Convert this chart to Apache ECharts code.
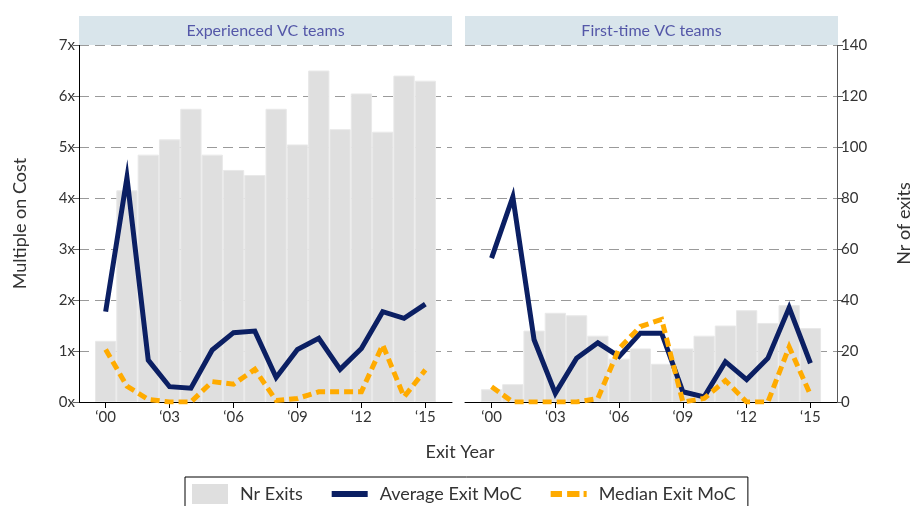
<!DOCTYPE html>
<html>
<head>
<meta charset="utf-8">
<script src="https://cdn.jsdelivr.net/npm/echarts@6/dist/echarts.min.js"></script>
<style>
  html, body { margin: 0; padding: 0; background: #fff; }
  #chart { width: 914px; height: 506px; }
</style>
</head>
<body>
<div id="chart"></div>
<script>
  var years = [2000, 2001, 2002, 2003, 2004, 2005, 2006, 2007, 2008, 2009, 2010, 2011, 2012, 2013, 2014, 2015];
  var labelYears = [2000, 2003, 2006, 2009, 2012, 2015];
  var panelTitles = ['Experienced VC teams', 'First-time VC teams'];

  // experienced VC teams
  var expExits = [24, 83, 97, 103, 115, 97, 91, 89, 115, 101, 130, 107, 121, 106, 128, 126];
  var expAvg = [1.77, 4.4, 0.82, 0.3, 0.27, 1.02, 1.36, 1.39, 0.48, 1.03, 1.25, 0.64, 1.05, 1.77, 1.64, 1.92];
  var expMed = [1.03, 0.31, 0.05, 0, 0, 0.4, 0.35, 0.64, 0.03, 0.07, 0.2, 0.2, 0.2, 1.12, 0.1, 0.63];

  // first-time VC teams
  var ftExits = [5, 7, 28, 35, 34, 26, 17, 21, 15, 21, 26, 30, 36, 31, 38, 29];
  var ftAvg = [2.82, 4.02, 1.22, 0.17, 0.86, 1.16, 0.89, 1.35, 1.35, 0.2, 0.1, 0.79, 0.44, 0.86, 1.85, 0.76];
  var ftMed = [0.3, 0, 0, 0, 0, 0.07, 1.05, 1.48, 1.62, 0, 0.07, 0.42, 0, 0, 1.08, 0.14];

  var font = 'Lato, "DejaVu Sans", sans-serif';
  var navy = '#0b1f63';
  var orange = '#ffab00';
  var barGray = '#dfdfdf';

  function pairs(vals) {
    return years.map(function (y, i) { return [y, vals[i]]; });
  }

  var chart = echarts.init(document.getElementById('chart'));

  function xAxisFor(gi) {
    return {
      type: 'value', gridIndex: gi, min: 1998.75, max: 2016.25,
      axisLine: { show: true, lineStyle: { color: '#000', width: 1 } },
      axisTick: { show: true, length: 6, customValues: labelYears, lineStyle: { color: '#000' } },
      axisLabel: {
        customValues: labelYears, color: '#333', fontFamily: font, fontSize: 15, margin: 8,
        formatter: function (v) { return '\u2018' + String(v).slice(2); }
      },
      splitLine: { show: false }
    };
  }

  var dashed = { show: true, lineStyle: { color: '#9a9a9a', width: 1.2, type: [10, 6] } };

  var option = {
    animation: false,
    textStyle: { fontFamily: font },
    grid: [
      { left: 79, top: 45, width: 373, height: 357 },
      { left: 465, top: 45, width: 373, height: 357 }
    ],
    xAxis: [xAxisFor(0), xAxisFor(1)],
    yAxis: [
      {
        type: 'value', gridIndex: 0, min: 0, max: 7, interval: 1, position: 'left',
        name: 'Multiple on Cost', nameLocation: 'middle', nameGap: 50,
        nameTextStyle: { fontSize: 18, color: '#333', fontFamily: font },
        axisLine: { show: true, lineStyle: { color: '#000' } },
        axisTick: { show: true, length: 6, lineStyle: { color: '#666' } },
        axisLabel: { formatter: '{value}x', color: '#333', fontSize: 15, fontFamily: font, margin: 4 },
        splitLine: dashed
      },
      { type: 'value', gridIndex: 0, min: 0, max: 140, show: false, splitLine: { show: false } },
      { type: 'value', gridIndex: 1, min: 0, max: 7, show: false, splitLine: { show: false } },
      {
        type: 'value', gridIndex: 1, min: 0, max: 140, interval: 20, position: 'right',
        name: 'Nr of exits', nameLocation: 'middle', nameGap: 58,
        nameTextStyle: { fontSize: 18, color: '#333', fontFamily: font },
        axisLine: { show: true, lineStyle: { color: '#555' } },
        axisTick: { show: true, length: 6, lineStyle: { color: '#555' } },
        axisLabel: { color: '#333', fontSize: 15, fontFamily: font, margin: 4 },
        splitLine: dashed
      }
    ],
    legend: {
      left: 185, top: 477,
      padding: [7, 12, 12, 7],
      borderColor: '#000', borderWidth: 1,
      itemWidth: 36, itemHeight: 20, itemGap: 29,
      selectedMode: false,
      textStyle: { fontSize: 18, color: '#333', fontFamily: font, padding: [0, 0, 0, 7] },
      data: [
        { name: 'Nr Exits', icon: 'rect', itemStyle: { color: barGray, borderWidth: 0 } },
        {
          name: 'Average Exit MoC', icon: 'path://M0,0h36v6h-36z',
          itemStyle: { color: navy, borderWidth: 0 }, lineStyle: { width: 0 }
        },
        {
          name: 'Median Exit MoC', icon: 'path://M0,0h11v6h-11z M16,0h12v6h-12z M32,0h3v6h-3z',
          itemStyle: { color: orange, borderWidth: 0 }, lineStyle: { width: 0 }
        }
      ]
    },
    graphic: [
      { type: 'rect', left: 79, top: 16, shape: { width: 373, height: 29 }, style: { fill: '#d9e5eb' }, z: 1 },
      { type: 'rect', left: 465, top: 16, shape: { width: 373, height: 29 }, style: { fill: '#d9e5eb' }, z: 1 },
      { type: 'text', x: 265.5, y: 30.5, z: 2, style: { text: panelTitles[0], fill: '#5457a8', font: '16px ' + font, textAlign: 'center', textVerticalAlign: 'middle' } },
      { type: 'text', x: 651.5, y: 30.5, z: 2, style: { text: panelTitles[1], fill: '#5457a8', font: '16px ' + font, textAlign: 'center', textVerticalAlign: 'middle' } },
      { type: 'text', x: 460, y: 452, z: 2, style: { text: 'Exit Year', fill: '#333', font: '18px ' + font, textAlign: 'center', textVerticalAlign: 'middle' } }
    ],
    series: []
  };

  var panels = [
    { exits: expExits, avg: expAvg, med: expMed, x: 0, yMoc: 0, yCnt: 1 },
    { exits: ftExits, avg: ftAvg, med: ftMed, x: 1, yMoc: 2, yCnt: 3 }
  ];

  panels.forEach(function (p) {
    option.series.push({
      name: 'Nr Exits', type: 'bar', xAxisIndex: p.x, yAxisIndex: p.yCnt,
      barWidth: 21.3, data: pairs(p.exits),
      itemStyle: { color: barGray, borderColor: '#e9e9e9', borderWidth: 1 },
      z: 2
    });
    option.series.push({
      name: 'Average Exit MoC', type: 'line', xAxisIndex: p.x, yAxisIndex: p.yMoc,
      data: pairs(p.avg), symbol: 'none', color: navy,
      lineStyle: { color: navy, width: 5, join: 'miter', miterLimit: 10 },
      z: 3
    });
    option.series.push({
      name: 'Median Exit MoC', type: 'line', xAxisIndex: p.x, yAxisIndex: p.yMoc,
      data: pairs(p.med), symbol: 'none', color: orange,
      lineStyle: { color: orange, width: 5, type: [9, 5], join: 'miter' },
      z: 4
    });
  });

  chart.setOption(option);
</script>
</body>
</html>
